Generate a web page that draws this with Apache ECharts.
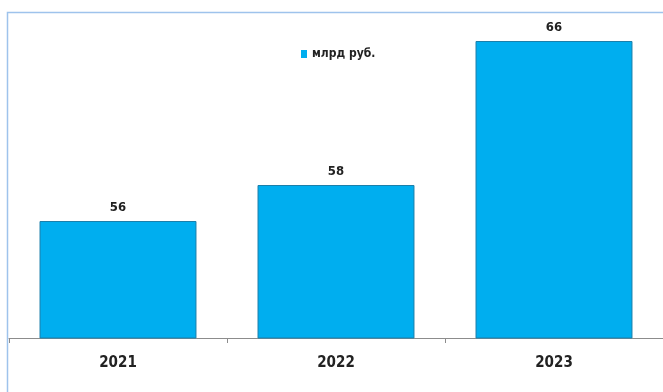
<!DOCTYPE html>
<html>
<head>
<meta charset="utf-8">
<script src="https://cdn.jsdelivr.net/npm/echarts@6/dist/echarts.min.js"></script>
<style>
  html, body { margin: 0; padding: 0; background: #fff; }
  #chart { width: 663px; height: 392px; }
</style>
</head>
<body>
<div id="chart"></div>
<script>
// Yearly values, billions of roubles
const years = ['2021', '2022', '2023'];
const values = [56, 58, 66];
const seriesName = 'млрд руб.';

const font = "'Liberation Sans Narrow', 'DejaVu Sans Condensed', 'Roboto Condensed', sans-serif";
const barColor = '#00AEEF';

const chart = echarts.init(document.getElementById('chart'), null, { renderer: 'canvas' });

chart.setOption({
  animation: false,
  backgroundColor: '#ffffff',
  graphic: [
    {
      type: 'rect',
      silent: true,
      shape: { x: 7.5, y: 12.5, width: 700, height: 400 },
      style: { fill: 'none', stroke: '#9EC3EC', lineWidth: 1.5 }
    }
  ],
  legend: {
    data: [{ name: seriesName, itemStyle: { borderWidth: 0 } }],
    left: 296,
    top: 43,
    icon: 'rect',
    itemWidth: 6,
    itemHeight: 8,
    itemGap: 3,
    textStyle: { fontFamily: font, fontSize: 12, fontWeight: 'bold', color: '#222' }
  },
  grid: { left: 9, right: -3, top: 14, bottom: 54 },
  xAxis: {
    type: 'category',
    data: years,
    axisLine: { lineStyle: { color: '#8c8c8c', width: 1 } },
    axisTick: { show: true, alignWithLabel: false, length: 5, lineStyle: { color: '#8c8c8c' } },
    axisLabel: { fontFamily: font, fontSize: 15, fontWeight: 'bold', color: '#222', margin: 18 }
  },
  yAxis: {
    type: 'value',
    min: 49.5,
    max: 67.5,
    show: false,
    splitLine: { show: false }
  },
  series: [
    {
      name: seriesName,
      type: 'bar',
      data: values,
      barWidth: '72%',
      itemStyle: { color: barColor, borderColor: '#1B7FAA', borderWidth: 1 },
      label: {
        show: true,
        position: 'top',
        distance: 7,
        fontFamily: font,
        fontSize: 13,
        fontWeight: 'bold',
        color: '#222'
      }
    }
  ]
});
</script>
</body>
</html>
